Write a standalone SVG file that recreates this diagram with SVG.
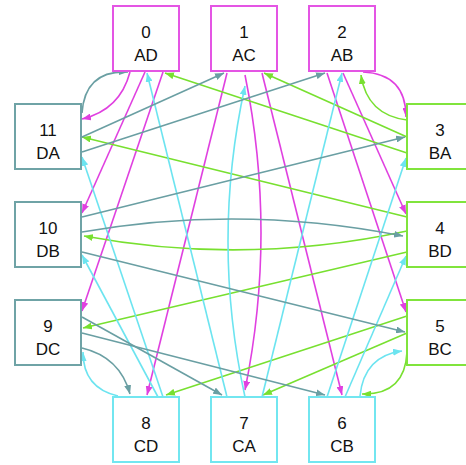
<svg xmlns="http://www.w3.org/2000/svg" width="466" height="465" viewBox="0 0 466 465">
  <defs>
    <style>
      .node rect { fill: #ffffff; stroke-width: 2; }
      .node text { font-family: "Liberation Sans", Arial, Helvetica, sans-serif; font-size: 17px; text-anchor: middle; fill: #111111; }
      .ga rect { stroke: #e455e4; }
      .gb rect { stroke: #80e43c; }
      .gc rect { stroke: #72e6f0; }
      .gd rect { stroke: #6fa3a6; }
      .edges path { fill: none; stroke-width: 1.6; }
      .ea { stroke: #e040e0; marker-end: url(#ah-a); }
      .eb { stroke: #78e030; marker-end: url(#ah-b); }
      .ec { stroke: #6ce4f0; marker-end: url(#ah-c); }
      .ed { stroke: #6a9fa3; marker-end: url(#ah-d); }
    </style>
    <marker id="ah-a" viewBox="0 0 9 7" refX="9" refY="3.5" markerWidth="9" markerHeight="7" markerUnits="userSpaceOnUse" orient="auto"><path d="M0,0 L9,3.5 L0,7 z" fill="#e040e0"/></marker>
    <marker id="ah-b" viewBox="0 0 9 7" refX="9" refY="3.5" markerWidth="9" markerHeight="7" markerUnits="userSpaceOnUse" orient="auto"><path d="M0,0 L9,3.5 L0,7 z" fill="#78e030"/></marker>
    <marker id="ah-c" viewBox="0 0 9 7" refX="9" refY="3.5" markerWidth="9" markerHeight="7" markerUnits="userSpaceOnUse" orient="auto"><path d="M0,0 L9,3.5 L0,7 z" fill="#6ce4f0"/></marker>
    <marker id="ah-d" viewBox="0 0 9 7" refX="9" refY="3.5" markerWidth="9" markerHeight="7" markerUnits="userSpaceOnUse" orient="auto"><path d="M0,0 L9,3.5 L0,7 z" fill="#6a9fa3"/></marker>
  </defs>

  <rect width="466" height="465" fill="#ffffff"/>

  <g id="edges" class="edges">
    <!-- from A* nodes (magenta) -->
    <path class="ea" d="M130,72 Q120,110 82,119"/>
    <path class="ea" d="M145,72 L82,213"/>
    <path class="ea" d="M163,72 L82,311"/>
    <path class="ea" d="M227,73 L147,395"/>
    <path class="ea" d="M245,75 Q277,233 245,390"/>
    <path class="ea" d="M262,73 L342,395"/>
    <path class="ea" d="M363,72 Q406,74 406,117"/>
    <path class="ea" d="M343,73 L406,214"/>
    <path class="ea" d="M327,73 L406,312"/>

    <!-- from B* nodes (green) -->
    <path class="eb" d="M407,120 Q367,115 361,75"/>
    <path class="eb" d="M407,137 L264,73"/>
    <path class="eb" d="M407,153 L165,73"/>
    <path class="eb" d="M407,217 L82,137"/>
    <path class="eb" d="M407,231 Q245,266 84,236"/>
    <path class="eb" d="M407,252 L83,328"/>
    <path class="eb" d="M407,316 L166,395"/>
    <path class="eb" d="M407,333 L263,395"/>
    <path class="eb" d="M407,352 Q405,395 362,394"/>

    <!-- from C* nodes (cyan) -->
    <path class="ec" d="M327,397 L406,158"/>
    <path class="ec" d="M345,397 L406,256"/>
    <path class="ec" d="M360,396 Q364,356 402,351"/>
    <path class="ec" d="M227,397 L147,73"/>
    <path class="ec" d="M245,397 Q211,241 245,86"/>
    <path class="ec" d="M262,397 L342,73"/>
    <path class="ec" d="M163,397 L82,157"/>
    <path class="ec" d="M158,397 L82,255"/>
    <path class="ec" d="M118,396 Q83,388 83,352"/>

    <!-- from D* nodes (teal) -->
    <path class="ed" d="M82,348 Q120,357 130,394"/>
    <path class="ed" d="M82,317 L222,395"/>
    <path class="ed" d="M82,333 L325,395"/>
    <path class="ed" d="M82,217 L405,137"/>
    <path class="ed" d="M82,232 Q242,204 403,236"/>
    <path class="ed" d="M82,252 L405,332"/>
    <path class="ed" d="M82,113 Q85,70 128,72"/>
    <path class="ed" d="M82,137 L224,73"/>
    <path class="ed" d="M82,152 L325,73"/>
  </g>

  <g id="node-0" class="node ga"><rect x="113" y="6" width="66" height="65"/><text x="146" y="38">0</text><text x="146" y="61">AD</text></g>
  <g id="node-1" class="node ga"><rect x="211" y="6" width="66" height="65"/><text x="244" y="38">1</text><text x="244" y="61">AC</text></g>
  <g id="node-2" class="node ga"><rect x="309" y="6" width="66" height="65"/><text x="342" y="38">2</text><text x="342" y="61">AB</text></g>
  <g id="node-3" class="node gb"><rect x="407" y="104" width="66" height="65"/><text x="440" y="136">3</text><text x="440" y="159">BA</text></g>
  <g id="node-4" class="node gb"><rect x="407" y="202" width="66" height="65"/><text x="440" y="234">4</text><text x="440" y="257">BD</text></g>
  <g id="node-5" class="node gb"><rect x="407" y="300" width="66" height="65"/><text x="440" y="332">5</text><text x="440" y="355">BC</text></g>
  <g id="node-6" class="node gc"><rect x="309" y="397" width="66" height="65"/><text x="342" y="429">6</text><text x="342" y="452">CB</text></g>
  <g id="node-7" class="node gc"><rect x="211" y="397" width="66" height="65"/><text x="244" y="429">7</text><text x="244" y="452">CA</text></g>
  <g id="node-8" class="node gc"><rect x="113" y="397" width="66" height="65"/><text x="146" y="429">8</text><text x="146" y="452">CD</text></g>
  <g id="node-9" class="node gd"><rect x="15" y="300" width="66" height="65"/><text x="48" y="332">9</text><text x="48" y="355">DC</text></g>
  <g id="node-10" class="node gd"><rect x="15" y="202" width="66" height="65"/><text x="48" y="234">10</text><text x="48" y="257">DB</text></g>
  <g id="node-11" class="node gd"><rect x="15" y="104" width="66" height="65"/><text x="48" y="136">11</text><text x="48" y="159">DA</text></g>
</svg>
